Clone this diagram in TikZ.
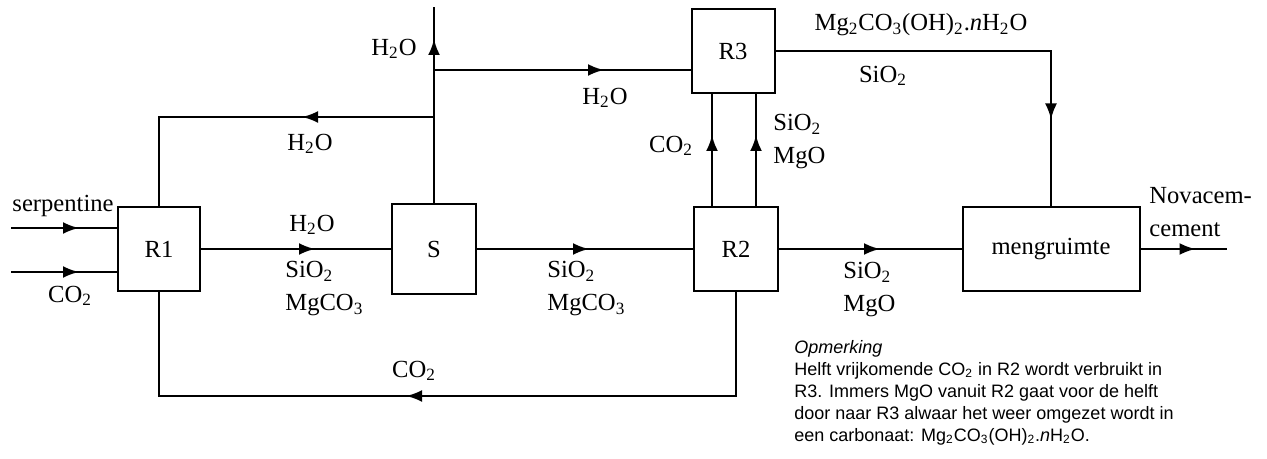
\documentclass[tikz,border=0pt]{standalone}
\usepackage{fontspec}
\setmainfont{Liberation Serif}
\newfontfamily\notefont{Liberation Sans}
\usetikzlibrary{arrows.meta,decorations.markings}
\tikzset{
  reactor/.style={draw, line width=1pt, minimum width=42pt, minimum height=42pt, inner sep=0pt, font=\fontsize{12.3}{16.5}\selectfont},
  stream/.style={line width=1.2pt},
  midtip/.style={postaction={decorate, decoration={markings, mark=at position #1 with {\arrow{Latex[length=8pt,width=6pt]}}}}},
  chem/.style={inner sep=0pt, align=left, font=\fontsize{12.3}{16.5}\selectfont},
  note/.style={inner sep=0pt, align=left, font=\notefont\fontsize{9}{11}\selectfont}
}

\begin{document}
\begin{tikzpicture}[x=0.5pt, y=-0.5pt]
  \useasboundingbox (0,0) rectangle (1267,459);
  % units
  \node[reactor, minimum width=41pt] (R1) at (159,249) {R1};
  \node[reactor, minimum height=45pt] (S) at (434,249) {S};
  \node[reactor] (R2) at (736,249) {R2};
  \node[reactor, minimum width=41.5pt] (R3) at (733,51) {R3};
  \node[reactor, minimum width=88.5pt] (meng) at (1051,249) {mengruimte};
  % free ends and branch points
  \coordinate (serpin) at (11,228);
  \coordinate (co2in) at (11,272);
  \coordinate (h2oout) at (434,7);
  \coordinate (splitA) at (434,70);
  \coordinate (splitB) at (434,117);
  \coordinate (back) at (159,396);
  \coordinate (prod) at (1227,249);
  % streams
  \draw[stream, midtip=34pt] (serpin) -- (serpin -| R1.west);
  \draw[stream, midtip=34pt] (co2in) -- (co2in -| R1.west);
  \draw[stream, midtip=57pt] (R1) -- (S);
  \draw[stream, midtip=56pt] (S) -- (R2);
  \draw[stream, midtip=50.5pt] (R2) -- (meng);
  \draw[stream, midtip=27.5pt] (meng) -- (prod);
  \draw[stream, midtip=82pt] (S) -- (h2oout);
  \draw[stream, midtip=85pt] (splitA) -- (splitA -| R3.west);
  \draw[stream, midtip=66pt] (splitB) -| (R1);
  \draw[stream, midtip=35.5pt] ([xshift=-12pt]R2.north) -- ([xshift=-12pt]R2.north |- R3.south);
  \draw[stream, midtip=35.5pt] ([xshift=10pt]R2.north) -- ([xshift=10pt]R2.north |- R3.south);
  \draw[stream, midtip=172pt] (R3) -| (meng);
  \draw[stream, midtip=217pt] (R2) |- (back) -- (R1);
  % labels
  \node[chem] (lserp) at (63,206) {serpentine};
  \node[chem] (lco2in) at (70,296) {CO\textsubscript{2}};
  \node[chem] (lh2oa) at (312,225) {H\textsubscript{2}O};
  \node[chem, anchor=north west] (lmixa) at (285,261) {SiO\textsubscript{2}\\MgCO\textsubscript{3}};
  \node[chem, anchor=north west] (lmixb) at (547,261) {SiO\textsubscript{2}\\MgCO\textsubscript{3}};
  \node[chem, anchor=north west] (lmixc) at (843,262) {SiO\textsubscript{2}\\MgO};
  \node[chem] (lh2ob) at (394,49) {H\textsubscript{2}O};
  \node[chem] (lh2oc) at (310,144) {H\textsubscript{2}O};
  \node[chem] (lh2od) at (605,98) {H\textsubscript{2}O};
  \node[chem] (lco2r) at (671,146) {CO\textsubscript{2}};
  \node[chem, anchor=north west] (lfeed) at (773,114) {SiO\textsubscript{2}\\MgO};
  \node[chem] (lcarb) at (921,25) {Mg\textsubscript{2}CO\textsubscript{3}(OH)\textsubscript{2}.\textit{n}H\textsubscript{2}O};
  \node[chem] (lsio) at (883,76) {SiO\textsubscript{2}};
  \node[chem, anchor=north west] (lprod) at (1149,187) {Novacem-\\cement};
  \node[chem] (lco2b) at (414,371) {CO\textsubscript{2}};
  \node[note, anchor=north west] (remark) at (794,340) {\textit{Opmerking}\\Helft vrijkomende CO\textsubscript{2} in R2 wordt verbruikt in\\R3. Immers MgO vanuit R2 gaat voor de helft\\door naar R3 alwaar het weer omgezet wordt in\\een carbonaat: Mg\textsubscript{2}CO\textsubscript{3}(OH)\textsubscript{2}.\textit{n}H\textsubscript{2}O.};
\end{tikzpicture}
\end{document}
